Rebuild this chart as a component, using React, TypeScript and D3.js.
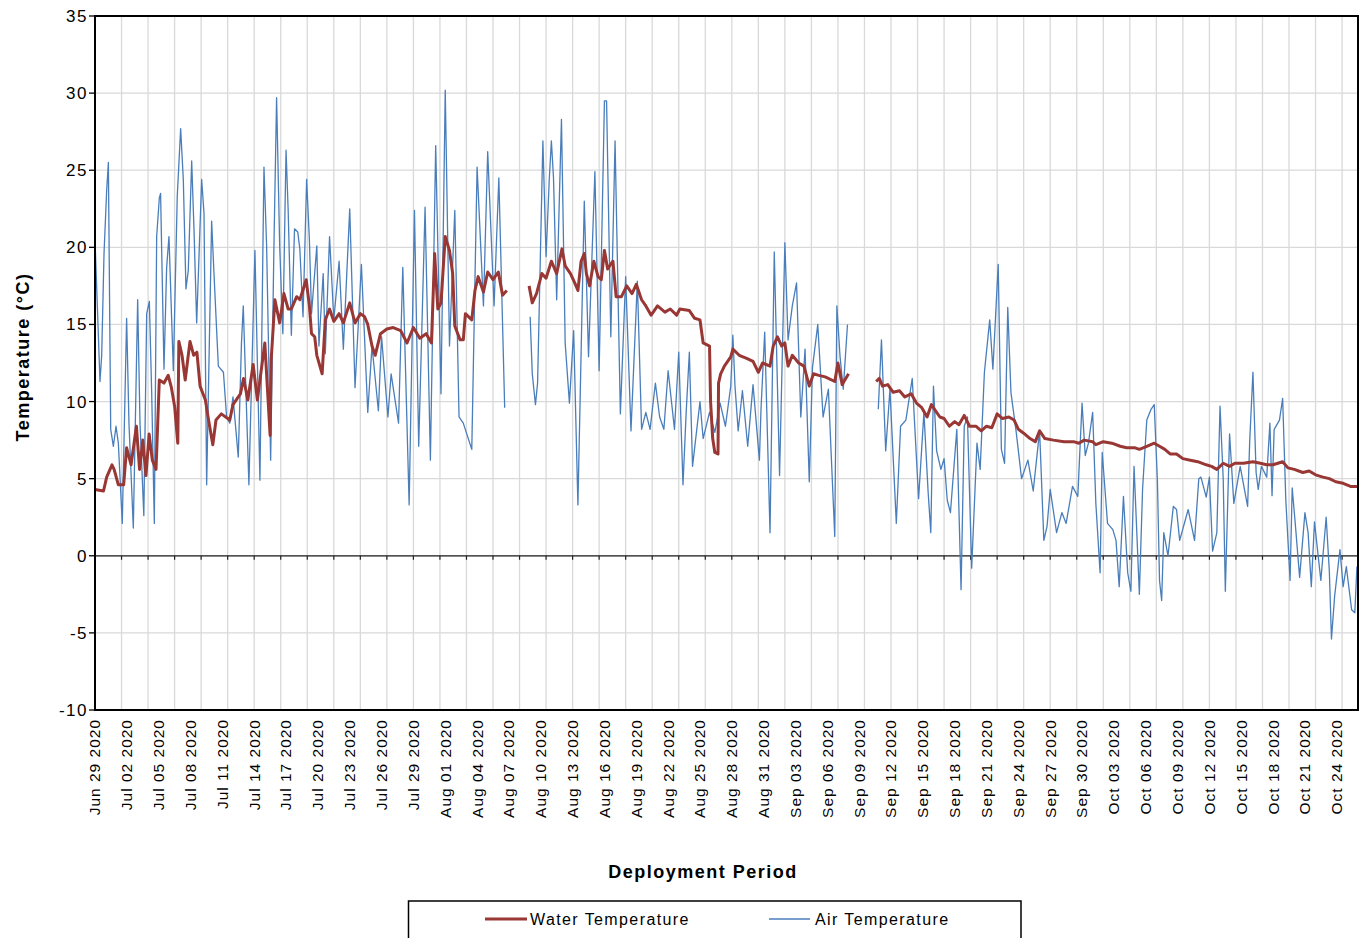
import React from "react";
import * as d3 from "d3";

// ---- Data (day offsets from Jun 29 2020, temperatures in °C; null = gap) ----
const START = new Date(2020, 5, 29);
const TOTAL_DAYS = 119;

const airDays: number[] = [
  0.0, 0.47, 0.63, 0.85, 1.1, 1.26, 1.48, 1.73, 1.98, 2.2, 2.57, 2.98, 3.2, 3.61, 4.02, 4.24, 4.6, 4.87, 5.12, 5.34,
  5.59, 5.81, 6.06, 6.18, 6.5, 6.75, 6.97, 7.38, 7.75, 8.07, 8.32, 8.57, 8.79, 9.11, 9.33, 9.58, 10.05, 10.27, 10.52, 10.99,
  11.21, 11.62, 12.1, 12.4, 12.7, 13.0, 13.5, 13.8, 13.97, 14.5, 15.07, 15.54, 15.92, 16.17, 16.55, 16.86, 17.11, 17.4, 17.7, 18.0,
  18.2, 18.5, 18.8, 19.1, 19.3, 19.6, 19.94, 20.2, 20.4, 20.9, 21.1, 21.5, 21.7, 22.1, 22.5, 23.0, 23.4, 24.0, 24.5, 25.1,
  25.7, 26.1, 26.7, 27.0, 27.6, 27.9, 28.6, 29.0, 29.6, 30.1, 30.5, 31.1, 31.6, 32.1, 32.6, 33.0, 33.4, 33.9, 34.3, 34.7,
  35.5, 36.0, 36.6, 37.0, 37.6, 38.05, 38.6, 39.8,
  41.0, 41.2, 41.5, 41.7, 42.2, 42.5, 42.8, 43.0, 43.2, 43.5, 43.95, 44.3, 44.7, 45.1, 45.5, 46.1, 46.5, 47.1, 47.5, 48.0,
  48.2, 48.6, 49.0, 49.5, 50.0, 50.5, 51.1, 51.5, 51.9, 52.3, 52.8, 53.2, 53.6, 54.0, 54.6, 55.0, 55.4, 55.7, 56.0, 56.3,
  57.0, 57.3, 57.9, 58.4, 58.9, 59.4, 59.9, 60.1, 60.3, 60.6, 61.0, 61.5, 62.0, 62.6, 62.75, 63.1, 63.6, 64.0, 64.5, 65.0,
  65.3, 65.7, 66.1, 66.5, 66.9, 67.3, 67.6, 68.1, 68.6, 69.1, 69.7, 69.9, 70.2, 70.5, 70.9, 72.0,
  73.8, 74.1, 74.5, 74.9, 75.5, 75.9, 76.4, 77.0, 77.6, 78.1, 78.5, 78.75, 79.0, 79.3, 79.7, 80.0, 80.3, 80.6, 81.2, 81.6,
  81.9, 82.2, 82.6, 83.1, 83.4, 83.8, 84.3, 84.6, 85.1, 85.4, 85.7, 86.0, 86.3, 86.8, 87.3, 87.9, 88.4, 89.0, 89.4, 89.7,
  90.0, 90.6, 91.1, 91.5, 92.1, 92.6, 93.0, 93.3, 93.6, 94.0, 94.3, 94.7, 94.9, 95.4, 95.9, 96.2, 96.5, 96.9, 97.3, 97.6,
  97.9, 98.4, 98.7, 99.1, 99.5, 99.8, 100.1, 100.3, 100.5, 100.7, 101.1, 101.6, 101.9, 102.2, 103.0, 103.6, 104.0, 104.2, 104.7, 105.0,
  105.3, 105.7, 106.0, 106.3, 106.5, 106.9, 107.3, 107.9, 108.3, 108.6, 108.8, 109.1, 109.4, 109.6, 109.9, 110.4, 110.7, 110.9, 111.1, 111.6,
  111.9, 112.2, 112.6, 112.8, 113.1, 113.5, 114.0, 114.3, 114.6, 114.9, 115.5, 116.0, 116.3, 116.5, 116.8, 117.3, 117.6, 117.9, 118.4, 118.7,
  118.9,
];
const airTemps: (number | null)[] = [
  20.5, 11.3, 13.0, 19.6, 23.7, 25.5, 8.2, 7.1, 8.4, 7.3, 2.1, 15.4, 8.6, 1.8, 16.6, 8.6, 2.6, 15.7, 16.5, 10.6,
  2.1, 20.7, 23.2, 23.5, 12.1, 18.7, 20.7, 12.0, 23.3, 27.7, 24.4, 17.3, 18.5, 25.6, 21.1, 15.1, 24.4, 22.2, 4.6, 21.7,
  18.3, 12.3, 11.9, 9.0, 8.6, 10.3, 6.4, 13.8, 16.2, 4.6, 19.8, 4.9, 25.2, 20.1, 6.2, 20.1, 29.7, 20.1, 14.4, 26.3,
  22.4, 14.3, 21.2, 21.0, 19.9, 15.5, 24.4, 20.5, 15.7, 20.1, 13.6, 18.3, 13.1, 20.7, 15.3, 19.1, 13.4, 22.5, 10.9, 18.9,
  9.3, 13.6, 9.4, 14.2, 9.0, 11.8, 8.6, 18.7, 3.3, 22.4, 7.1, 22.6, 6.2, 26.6, 10.5, 30.2, 13.6, 22.4, 9.0, 8.6,
  6.9, 25.2, 16.2, 26.2, 16.2, 24.5, 9.6, null,
  15.5, 11.8, 9.8, 11.2, 26.9, 19.4, 24.4, 26.9, 24.5, 16.6, 28.3, 13.8, 9.9, 14.6, 3.3, 23.0, 12.9, 24.9, 12.0, 29.5,
  29.5, 14.2, 26.9, 9.2, 18.1, 8.1, 17.8, 8.2, 9.3, 8.2, 11.2, 9.0, 8.2, 12.0, 8.2, 13.2, 4.6, 9.3, 13.2, 5.8,
  10.0, 7.6, 9.3, 8.0, 9.9, 8.4, 11.0, 14.3, 11.0, 8.1, 10.7, 7.1, 11.1, 6.2, 9.5, 14.5, 1.5, 19.7, 5.2, 20.3,
  14.0, 16.2, 17.7, 9.0, 13.4, 4.8, 12.2, 15.0, 9.0, 10.8, 1.25, 16.2, 12.9, 10.8, 15.0, null,
  9.5, 14.0, 6.8, 10.8, 2.1, 8.4, 8.8, 11.5, 3.7, 9.3, 4.1, 1.5, 11.0, 6.8, 5.6, 6.3, 3.6, 2.8, 8.2, -2.2,
  8.4, 9.0, -0.8, 7.3, 5.6, 11.9, 15.3, 12.1, 18.9, 6.9, 6.0, 16.1, 10.6, 8.0, 5.0, 6.2, 4.2, 8.1, 1.0, 1.9,
  4.3, 1.5, 2.8, 2.1, 4.5, 3.85, 9.9, 6.5, 7.3, 9.3, 3.4, -1.1, 6.7, 2.1, 1.7, 1.0, -2.0, 3.85, -1.1, -2.3,
  5.8, -2.5, 4.3, 8.8, 9.5, 9.8, 4.9, -1.6, -2.9, 1.5, 0.0, 3.2, 3.0, 1.0, 3.0, 1.0, 5.0, 5.1, 3.8, 5.1,
  0.3, 1.5, 9.7, 5.0, -2.3, 7.9, 3.4, 5.8, 4.3, 3.2, 7.5, 11.9, 5.4, 4.3, 5.8, 5.1, 8.6, 3.9, 8.2, 8.8,
  10.2, 3.6, -1.6, 4.4, 2.0, -1.4, 2.8, 1.5, -2.0, 2.2, -1.6, 2.5, -1.0, -5.4, -2.6, 0.4, -2.0, -0.7, -3.5, -3.7,
  -0.7,
];

const waterDays: number[] = [
  0.0, 0.8, 1.1, 1.6, 1.8, 2.2, 2.7, 2.98, 3.4, 3.9, 4.2, 4.5, 4.8, 5.1, 5.4, 5.75, 6.06, 6.5, 6.9, 7.2,
  7.5, 7.8, 7.9, 8.2, 8.5, 8.95, 9.3, 9.6, 9.9, 10.4, 10.7, 11.1, 11.4, 11.9, 12.7, 13.0, 13.7, 14.0, 14.4, 14.9,
  15.3, 15.6, 16.0, 16.5, 16.6, 16.95, 17.4, 17.8, 18.2, 18.5, 19.0, 19.3, 19.9, 20.2, 20.4, 20.7, 20.9, 21.4, 21.7, 22.1,
  22.5, 23.0, 23.4, 24.0, 24.5, 25.0, 25.4, 25.7, 26.1, 26.4, 26.9, 27.5, 28.1, 28.8, 29.4, 30.0, 30.6, 31.2, 31.7, 32.0,
  32.3, 32.6, 33.0, 33.4, 33.7, 33.9, 34.4, 34.7, 34.9, 35.5, 35.8, 36.1, 36.6, 37.0, 37.5, 38.0, 38.4, 38.8, 39.8,
  40.9, 41.2, 41.6, 42.1, 42.5, 43.0, 43.5, 44.0, 44.3, 44.8, 45.2, 45.5, 45.8, 46.1, 46.3, 46.6, 47.0, 47.4, 47.7, 48.0,
  48.3, 48.8, 49.1, 49.6, 50.1, 50.6, 51.0, 51.5, 51.9, 52.4, 53.0, 53.7, 54.2, 54.8, 55.1, 56.0, 56.5, 57.0, 57.3, 57.9,
  58.0, 58.2, 58.4, 58.7, 58.75, 58.95, 59.3, 59.9, 60.1, 60.7, 61.4, 62.0, 62.5, 62.9, 63.6, 63.9, 64.3, 64.7, 65.0, 65.3,
  65.7, 66.3, 66.8, 67.3, 67.7, 68.2, 68.8, 69.7, 70.0, 70.4, 71.0, 72.0,
  73.6, 73.9, 74.2, 74.7, 75.2, 75.8, 76.3, 76.9, 77.4, 77.9, 78.4, 78.8, 79.6, 80.0, 80.5, 81.0, 81.4, 81.9, 82.4, 83.0,
  83.5, 84.0, 84.5, 85.0, 85.5, 86.1, 86.6, 87.0, 87.5, 88.1, 88.6, 89.0, 89.5, 90.3, 91.3, 92.2, 92.7, 93.2, 94.0, 94.3,
  95.0, 95.8, 96.6, 97.2, 98.0, 98.4, 99.1, 99.8, 100.3, 100.8, 101.3, 101.9, 102.5, 103.2, 103.9, 104.7, 105.2, 105.7, 106.3, 106.9,
  107.4, 108.2, 109.1, 109.8, 110.4, 111.0, 111.9, 112.4, 113.0, 113.8, 114.4, 115.0, 115.7, 116.3, 116.9, 117.6, 118.3, 119.0,
];
const waterTemps: (number | null)[] = [
  4.3, 4.2, 5.1, 5.9, 5.6, 4.6, 4.6, 7.0, 5.9, 8.4, 5.6, 7.5, 5.2, 7.9, 6.2, 5.6, 11.4, 11.2, 11.7, 10.9,
  9.7, 7.3, 13.9, 13.0, 11.4, 13.9, 13.0, 13.2, 11.0, 10.1, 8.8, 7.2, 8.8, 9.2, 8.8, 9.8, 10.5, 11.5, 10.1, 12.4,
  10.1, 11.7, 13.8, 7.8, 12.7, 16.6, 15.1, 17.0, 16.0, 16.0, 16.8, 16.6, 17.9, 16.2, 14.4, 14.2, 13.0, 11.8, 15.3, 16.0,
  15.2, 15.7, 15.1, 16.4, 15.1, 15.7, 15.5, 15.0, 13.6, 13.0, 14.4, 14.7, 14.8, 14.6, 13.8, 14.8, 14.1, 14.4, 13.8, 19.6,
  16.0, 16.4, 20.7, 19.8, 18.3, 14.9, 14.0, 14.0, 15.7, 15.3, 17.2, 18.1, 17.1, 18.4, 17.9, 18.4, 16.9, 17.2, null,
  17.5, 16.4, 17.0, 18.3, 18.0, 19.1, 18.3, 19.9, 18.8, 18.3, 17.7, 17.2, 19.1, 19.6, 18.3, 17.5, 19.1, 18.1, 17.9, 19.8,
  18.6, 19.1, 16.8, 16.8, 17.5, 17.0, 17.6, 16.6, 16.2, 15.6, 16.2, 15.8, 16.0, 15.6, 16.0, 15.9, 15.4, 15.3, 13.8, 13.6,
  10.0, 7.6, 6.7, 6.6, 11.2, 11.8, 12.3, 12.9, 13.4, 13.0, 12.8, 12.6, 11.9, 12.5, 12.3, 13.6, 14.2, 13.6, 13.8, 12.3,
  13.0, 12.5, 12.3, 11.0, 11.8, 11.7, 11.6, 11.3, 12.5, 11.1, 11.8, null,
  11.3, 11.5, 11.0, 11.1, 10.6, 10.7, 10.3, 10.5, 9.9, 9.6, 9.0, 9.8, 9.0, 8.9, 8.4, 8.7, 8.5, 9.1, 8.4, 8.4,
  8.1, 8.4, 8.3, 9.2, 8.9, 9.0, 8.8, 8.2, 7.95, 7.6, 7.4, 8.1, 7.6, 7.5, 7.4, 7.4, 7.3, 7.5, 7.4, 7.2,
  7.4, 7.3, 7.1, 7.0, 7.0, 6.9, 7.1, 7.3, 7.1, 6.9, 6.6, 6.6, 6.3, 6.2, 6.1, 5.9, 5.8, 5.6, 6.0, 5.8,
  6.0, 6.0, 6.1, 6.0, 5.9, 5.9, 6.1, 5.7, 5.6, 5.4, 5.5, 5.25, 5.1, 5.0, 4.8, 4.7, 4.5, 4.5,
];

const yTicks: number[] = [-10, -5, 0, 5, 10, 15, 20, 25, 30, 35];
const labelEveryDays = 3;
const gridEveryDays = 2.5;

const SERIES_NAMES = ["Water Temperature", "Air Temperature"];

// ---- Layout ----
const W = 1361;
const H = 938;
const L = 95;
const R = 1358;
const T = 16;
const B = 710;
const FONT = "Arial, 'Liberation Sans', Helvetica, sans-serif";
const WATER = "#993735";
const AIR = "#4a7ebb";

const dayDate = (d: number) => new Date(START.getTime() + d * 86400000);

export default function App() {
  const x = d3.scaleTime().domain([START, dayDate(TOTAL_DAYS)]).range([L, R]);
  const y = d3.scaleLinear().domain([-10, 35]).range([B, T]);

  type P = { d: number; v: number | null };
  const air: P[] = airDays.map((d, i) => ({ d, v: airTemps[i] }));
  const water: P[] = waterDays.map((d, i) => ({ d, v: waterTemps[i] }));

  const line = d3
    .line<P>()
    .defined((p) => p.v !== null)
    .x((p) => x(dayDate(p.d)))
    .y((p) => y(p.v as number));

  const labelDays = d3.range(0, TOTAL_DAYS - 1, labelEveryDays);
  const gridDays = d3.range(0, TOTAL_DAYS, gridEveryDays).filter((d) => d > 0 && d < TOTAL_DAYS);
  const fmt = d3.timeFormat("%b %d %Y");

  return (
    <svg
      width={W}
      height={H}
      style={{ position: "absolute", left: 0, top: 0, background: "#fff" }}
      fontFamily={FONT}
    >
      <rect x={0} y={0} width={W} height={H} fill="#fff" />
      {/* horizontal gridlines */}
      {yTicks.map((t) => (
        <line key={"hg" + t} x1={L} x2={R} y1={y(t)} y2={y(t)} stroke="#d9d9d9" strokeWidth={1.3} />
      ))}
      {/* vertical gridlines */}
      {gridDays.map((d) => (
        <line
          key={"vg" + d}
          x1={x(dayDate(d))}
          x2={x(dayDate(d))}
          y1={T}
          y2={B}
          stroke="#d9d9d9"
          strokeWidth={1.3}
        />
      ))}
      {/* zero line with ticks */}
      <line x1={L} x2={R} y1={y(0)} y2={y(0)} stroke="#222" strokeWidth={1.3} />
      {gridDays.map((d) => (
        <line
          key={"zt" + d}
          x1={x(dayDate(d))}
          x2={x(dayDate(d))}
          y1={y(0)}
          y2={y(0) + 4}
          stroke="#222"
          strokeWidth={1.2}
        />
      ))}
      {/* series */}
      <path d={line(air) || ""} fill="none" stroke={AIR} strokeWidth={1.3} strokeLinejoin="round" />
      <path d={line(water) || ""} fill="none" stroke={WATER} strokeWidth={3} strokeLinejoin="round" />
      {/* frame */}
      <rect x={L} y={T} width={R - L} height={B - T} fill="none" stroke="#000" strokeWidth={2} />
      {/* y axis ticks and labels */}
      {yTicks.map((t) => (
        <g key={"yt" + t}>
          <line x1={L - 6} x2={L} y1={y(t)} y2={y(t)} stroke="#000" strokeWidth={1.3} />
          <text
            x={88}
            y={y(t)}
            dy="0.35em"
            textAnchor="end"
            fontSize={17}
            letterSpacing={1.5}
            fill="#000"
          >
            {t}
          </text>
        </g>
      ))}
      {/* x labels */}
      {labelDays.map((d) => (
        <text
          key={"xl" + d}
          transform={`translate(${x(dayDate(d))},${719}) rotate(-90)`}
          dy="0.35em"
          textAnchor="end"
          fontSize={15.5}
          letterSpacing={1}
          fill="#000"
        >
          {fmt(dayDate(d))}
        </text>
      ))}
      {/* axis titles */}
      <text
        transform={`translate(23,357) rotate(-90)`}
        dy="0.35em"
        textAnchor="middle"
        fontSize={18}
        fontWeight="bold"
        letterSpacing={1.5}
        fill="#000"
      >
        Temperature (°C)
      </text>
      <text x={703} y={872} dy="0.35em" textAnchor="middle" fontSize={18} fontWeight="bold" letterSpacing={1.5} fill="#000">
        Deployment Period
      </text>
      {/* legend */}
      <rect x={408.5} y={901} width={612.5} height={60} fill="#fff" stroke="#000" strokeWidth={1.5} />
      <line x1={485} x2={527} y1={919} y2={919} stroke={WATER} strokeWidth={3} />
      <text x={530} y={919} dy="0.35em" fontSize={16} letterSpacing={1.4} fill="#000">
        {SERIES_NAMES[0]}
      </text>
      <line x1={769} x2={810} y1={919} y2={919} stroke={AIR} strokeWidth={1.3} />
      <text x={815} y={919} dy="0.35em" fontSize={16} letterSpacing={1.4} fill="#000">
        {SERIES_NAMES[1]}
      </text>
    </svg>
  );
}
